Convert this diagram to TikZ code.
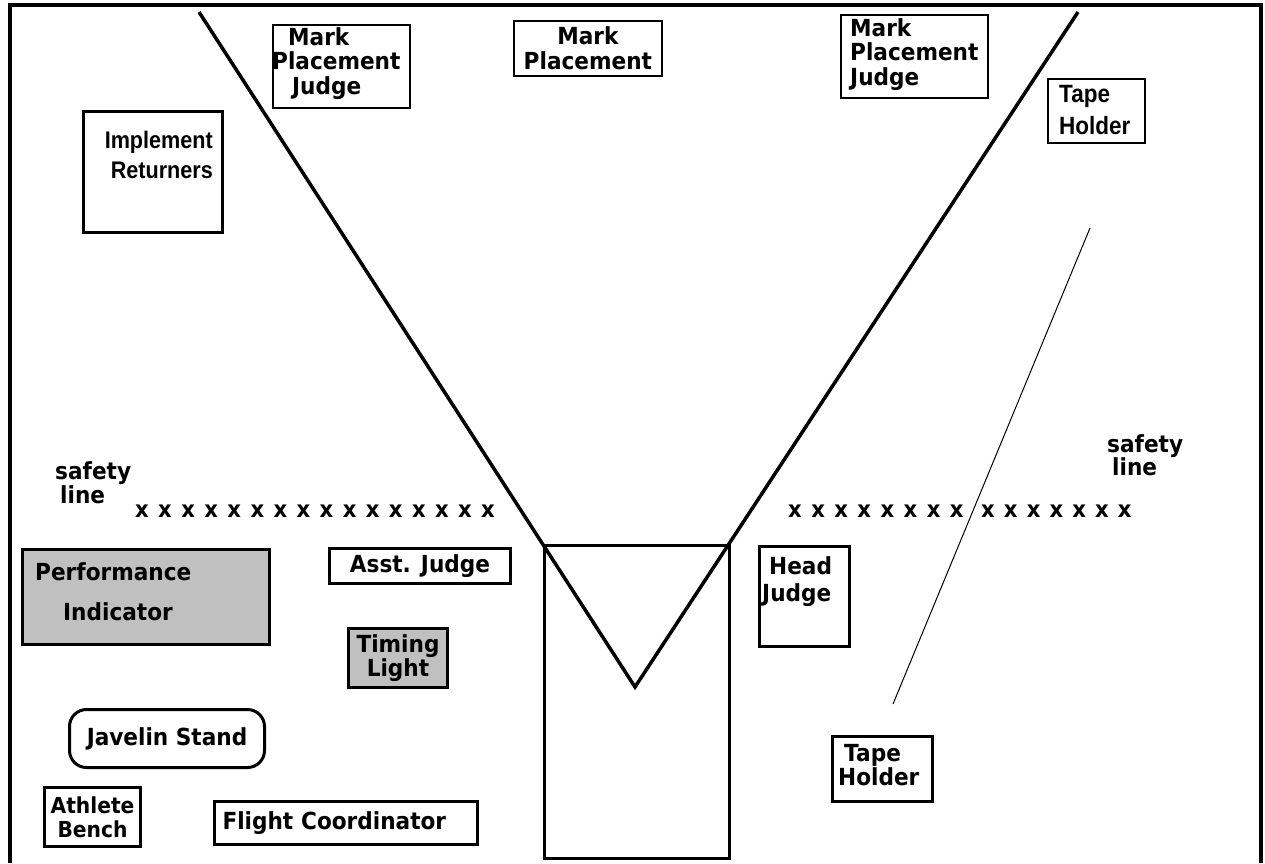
\documentclass[tikz,border=0pt]{standalone}
\usepackage{fontspec}
\setmainfont{DejaVu Sans}[FakeStretch=0.92]
\newfontfamily\libsans{Liberation Sans}[FakeStretch=0.9]
\definecolor{boxgray}{HTML}{C0C0C0}
\begin{document}
\begin{tikzpicture}[x=1pt,y=-1pt,
  stationbox/.style={draw, line width=3pt, inner sep=0pt, anchor=north west},
  thinbox/.style={stationbox, line width=1.7pt},
  graybox/.style={stationbox, fill=boxgray},
  sz/.style 2 args={minimum width=#1pt, minimum height=#2pt},
  txt/.style={inner sep=0pt, font=\bfseries\fontsize{23.5}{24.5}\selectfont},
  xmark/.style={inner sep=0pt, font=\bfseries\fontsize{23}{23}\selectfont},
  field/.style={line width=3.5pt, line join=miter},
  fieldframe/.style={line width=4pt}]
\useasboundingbox (0,0) rectangle (1265,863);

% outer frame
\draw[fieldframe] (10.3,863) -- (10.3,5.3) -- (1261,5.3) -- (1261,863);

% throwing sector
\coordinate (vl) at (199,12);
\coordinate (vb) at (635,687);
\coordinate (vr) at (1078,12);
\node[stationbox, line width=2.7pt, sz={185}{313}] (sector) at (543,544) {};
\draw[field] (vl) -- (vb) -- (vr);

% thin line
\coordinate (t1) at (1090,228);
\coordinate (t2) at (893,704);
\draw[line width=1pt] (t1) -- (t2);

% Implement Returners
\node[stationbox, sz={139}{121}] (impl) at (82,110) {};
\node[txt, font=\libsans\bfseries\fontsize{24}{30}\selectfont, align=right, anchor=north east] (impltxt) at (213,130.5) {Implement\\Returners};

% Mark Placement Judge (left)
\node[thinbox, sz={137}{83}] (mpj1) at (272,24) {};
\node[txt, align=left, anchor=north west] (mpj1txt) at (272,27) {\hspace*{16pt}Mark\\Placement\\\hspace*{20pt}Judge};

% Mark Placement (centre)
\node[thinbox, txt, sz={148}{55}, align=center] (mp) at (513,20) {Mark\\Placement};

% Mark Placement Judge (right)
\node[thinbox, sz={147}{83}] (mpj2) at (840,14) {};
\node[txt, align=left, anchor=north west] (mpj2txt) at (850,18) {Mark\\Placement\\Judge};

% Tape Holder (top)
\node[thinbox, sz={97}{64}] (tape1) at (1047,78) {};
\node[txt, font=\libsans\bfseries\fontsize{25}{32}\selectfont, align=left, anchor=north west] (tape1txt) at (1059,85) {Tape\\Holder};

% safety lines
\node[txt, font=\bfseries\fontsize{23.5}{24}\selectfont, align=left, anchor=north west] (safetyL) at (55,461) {safety\\\hspace*{5pt}line};
\node[txt, font=\bfseries\fontsize{23.5}{21.5}\selectfont, align=left, anchor=north west] (safetyR) at (1107,434) {safety\\\hspace*{5pt}line};

\foreach \i in {0,...,15} \node[xmark] (xl\i) at ({142+23.07*\i},511) {x};
\foreach \i in {0,...,7} \node[xmark] (xr\i) at ({795+23.1*\i},511) {x};
\foreach \i in {0,...,6} \node[xmark] (xs\i) at ({988+22.8*\i},511) {x};

% Performance Indicator
\node[graybox, sz={247}{95}] (perf) at (21,548) {};
\node[txt, font=\bfseries\fontsize{23.5}{40}\selectfont, align=left, anchor=north west] (perftxt) at (35,562) {Performance\\\hspace*{28pt}Indicator};

% Asst. Judge
\node[stationbox, txt, sz={181}{35}] (asst) at (328,547) {Asst. Judge};

% Timing Light
\node[graybox, txt, sz={99}{59}, align=center] (timing) at (347,627) {Timing\\Light};

% Head Judge
\node[stationbox, sz={90}{100}] (head) at (758,545) {};
\node[txt, font=\bfseries\fontsize{23.5}{27}\selectfont, align=left, anchor=north west] (headtxt) at (762,556) {\hspace*{7pt}Head\\Judge};

% Javelin Stand
\node[stationbox, txt, sz={195}{58}, rounded corners=17pt] (javelin) at (68,708) {Javelin Stand};

% Tape Holder (bottom)
\node[stationbox, sz={100}{65}] (tape2) at (831,735) {};
\node[txt, align=left, anchor=north west] (tape2txt) at (838,744) {\hspace*{6pt}Tape\\Holder};

% Athlete Bench
\node[stationbox, txt, sz={96}{59}, align=center, font=\bfseries\fontsize{22}{24}\selectfont] (bench) at (43,786) {Athlete\\Bench};

% Flight Coordinator
\node[stationbox, txt, minimum height=43pt, text width=247pt, inner xsep=8pt, align=left] (flight) at (213,800) {Flight Coordinator};
\end{tikzpicture}
\end{document}
